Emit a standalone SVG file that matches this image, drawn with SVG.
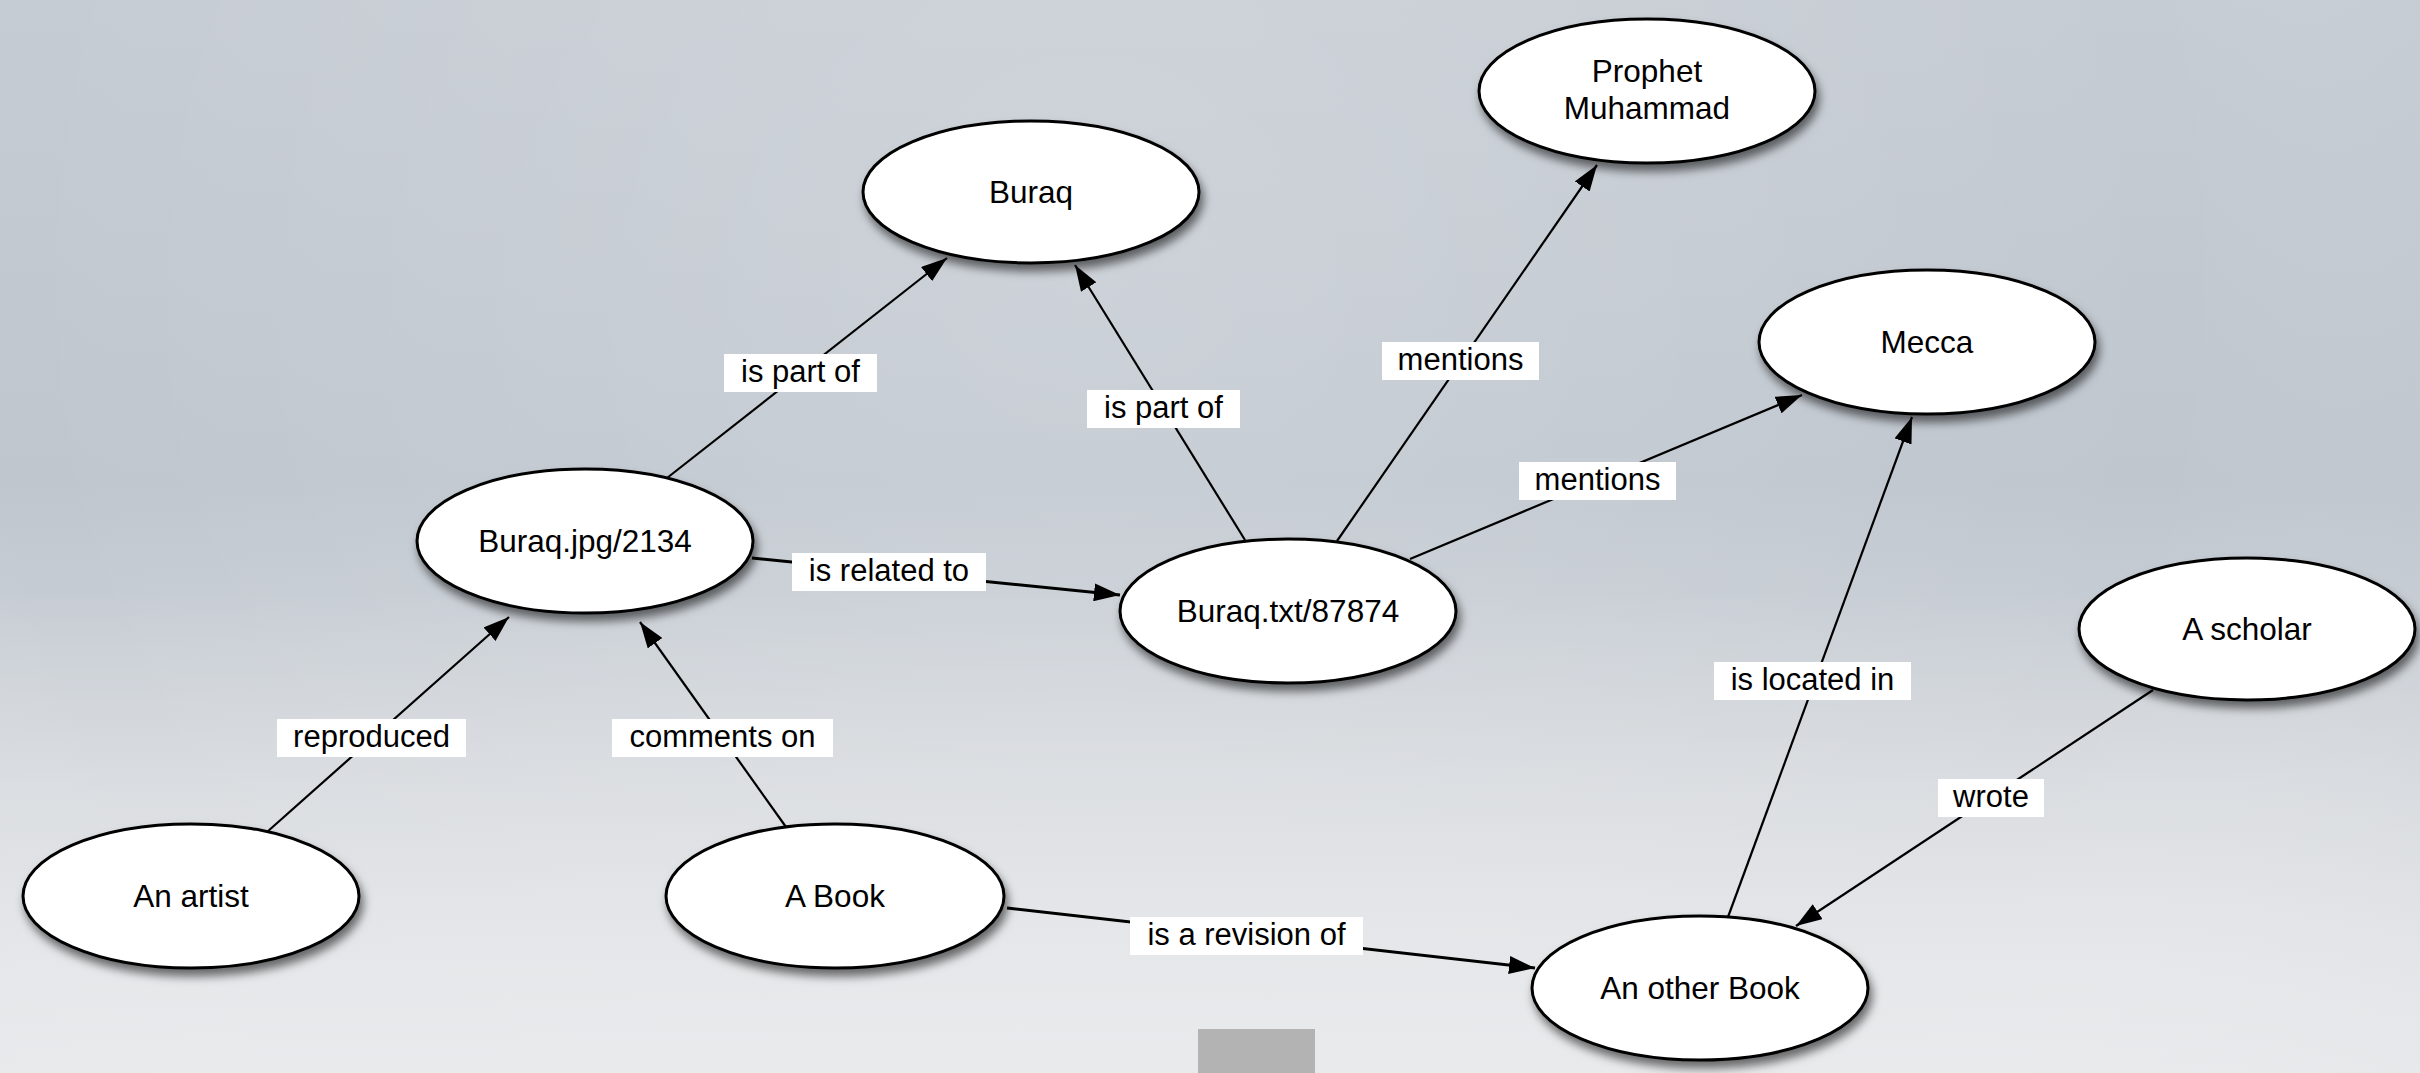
<svg xmlns="http://www.w3.org/2000/svg" width="2420" height="1073" viewBox="0 0 2420 1073">
<style>
.node ellipse{fill:#fff;stroke:#000;stroke-width:3;filter:url(#sh)}
.node text{font-family:"Liberation Sans",Arial,sans-serif;font-size:31.5px;fill:#000;text-anchor:middle}
.edge line{stroke:#000;stroke-width:2.2;marker-end:url(#arr)}
.edge line.thick{stroke-width:3}
.lbl rect{fill:#fff}
.lbl text{font-family:"Liberation Sans",Arial,sans-serif;font-size:31px;fill:#000;text-anchor:middle}
</style>
<defs>
<linearGradient id="bg" x1="0" y1="0" x2="0" y2="1">
<stop offset="0" stop-color="#c6ccd3"/>
<stop offset="0.45" stop-color="#bfc6ce"/>
<stop offset="0.8" stop-color="#d6dade"/>
<stop offset="1" stop-color="#e8e9eb"/>
</linearGradient>
<radialGradient id="vig" cx="0.45" cy="0.25" r="0.75" gradientTransform="matrix(1 0 0 2.2 0 -0.3)">
<stop offset="0" stop-color="#ffffff" stop-opacity="0.18"/>
<stop offset="0.6" stop-color="#ffffff" stop-opacity="0"/>
<stop offset="1" stop-color="#7c8692" stop-opacity="0.25"/>
</radialGradient>
<linearGradient id="bot" x1="0" y1="0" x2="0" y2="1">
<stop offset="0.55" stop-color="#e9eaec" stop-opacity="0"/>
<stop offset="1" stop-color="#e9eaec" stop-opacity="0.85"/>
</linearGradient>
<filter id="sh" x="-20%" y="-20%" width="140%" height="160%">
<feDropShadow dx="3" dy="7" stdDeviation="5" flood-color="#000" flood-opacity="0.55"/>
</filter>
<marker id="arr" markerUnits="userSpaceOnUse" markerWidth="26" markerHeight="18" refX="26" refY="9" orient="auto">
<path d="M0,0 L26,9 L0,18 z" fill="#000"/>
</marker>
</defs>
<rect width="2420" height="1073" fill="url(#bg)"/>
<rect width="2420" height="1073" fill="url(#vig)"/>
<rect width="2420" height="1073" fill="url(#bot)"/>
<rect x="1198" y="1029" width="117" height="44" fill="#b3b3b3"/>

<g id="connectors" class="edge">
<line x1="667" y1="478" x2="947" y2="258"/>
<line x1="1245" y1="540" x2="1075" y2="265"/>
<line x1="1337" y1="541" x2="1597" y2="165"/>
<line x1="1410" y1="559" x2="1802" y2="395"/>
<line class="thick" x1="752" y1="558" x2="1120" y2="595"/>
<line x1="267" y1="832" x2="509" y2="617"/>
<line x1="786" y1="827" x2="640" y2="622"/>
<line class="thick" x1="1007" y1="908" x2="1535" y2="968"/>
<line x1="1728" y1="917" x2="1912" y2="417"/>
<line x1="2153" y1="690" x2="1796" y2="926"/>
</g>

<g id="labels" class="lbl">
<g><rect x="724" y="354" width="153" height="38"/><text x="800.5" y="382">is part of</text></g>
<g><rect x="1087" y="390" width="153" height="38"/><text x="1163.5" y="418">is part of</text></g>
<g><rect x="1382" y="342" width="157" height="38"/><text x="1460.5" y="370">mentions</text></g>
<g><rect x="1519" y="462" width="157" height="38"/><text x="1597.5" y="490">mentions</text></g>
<g><rect x="792" y="553" width="194" height="38"/><text x="889" y="581">is related to</text></g>
<g><rect x="277" y="719" width="189" height="38"/><text x="371.5" y="747">reproduced</text></g>
<g><rect x="612" y="719" width="221" height="38"/><text x="722.5" y="747">comments on</text></g>
<g><rect x="1130" y="917" width="233" height="38"/><text x="1246.5" y="945">is a revision of</text></g>
<g><rect x="1714" y="662" width="197" height="38"/><text x="1812.5" y="690">is located in</text></g>
<g><rect x="1938" y="779" width="106" height="38"/><text x="1991" y="807">wrote</text></g>
</g>

<g id="n-buraq" class="node"><ellipse cx="1031" cy="192" rx="168" ry="71"/><text x="1031" y="203">Buraq</text></g>
<g id="n-prophet" class="node"><ellipse cx="1647" cy="91" rx="168" ry="72"/><text x="1647" y="82">Prophet</text><text x="1647" y="119">Muhammad</text></g>
<g id="n-mecca" class="node"><ellipse cx="1927" cy="342" rx="168" ry="72"/><text x="1927" y="353">Mecca</text></g>
<g id="n-jpg" class="node"><ellipse cx="585" cy="541" rx="168" ry="72"/><text x="585" y="552">Buraq.jpg/2134</text></g>
<g id="n-txt" class="node"><ellipse cx="1288" cy="611" rx="168" ry="72"/><text x="1288" y="622">Buraq.txt/87874</text></g>
<g id="n-scholar" class="node"><ellipse cx="2247" cy="629" rx="168" ry="71"/><text x="2247" y="640">A scholar</text></g>
<g id="n-artist" class="node"><ellipse cx="191" cy="896" rx="168" ry="72"/><text x="191" y="907">An artist</text></g>
<g id="n-abook" class="node"><ellipse cx="835" cy="896" rx="169" ry="72"/><text x="835" y="907">A Book</text></g>
<g id="n-otherbook" class="node"><ellipse cx="1700" cy="988" rx="168" ry="72"/><text x="1700" y="999">An other Book</text></g>
</svg>
